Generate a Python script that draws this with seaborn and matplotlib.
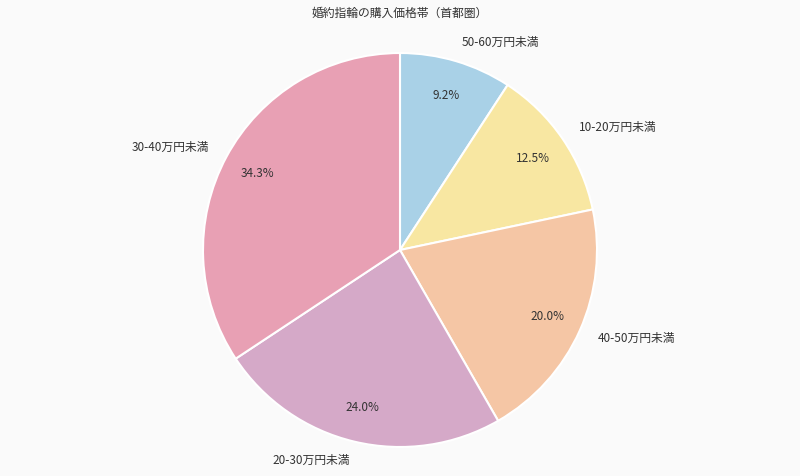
import matplotlib
matplotlib.use("Agg")
import matplotlib.pyplot as plt
import seaborn as sns

# data (clockwise from 12 o'clock)
labels = ["50-60万円未満", "10-20万円未満", "40-50万円未満", "20-30万円未満", "30-40万円未満"]
shares = [9.2, 12.5, 20.0, 24.0, 34.3]
colors = ["#a9d1e7", "#f8e7a2", "#f5c6a5", "#d5a9c8", "#e8a0b4"]
title = "婚約指輪の購入価格帯（首都圏）"

sns.set_theme(style="white", rc={"figure.facecolor": "#fafafa", "axes.facecolor": "#fafafa"})
plt.rcParams["font.family"] = ["Noto Sans CJK JP", "DejaVu Sans"]

fig = plt.figure(figsize=(8, 4.76), dpi=100)
ax = fig.add_axes([0, 0, 1, 1])

ax.pie(
    shares,
    labels=labels,
    colors=colors,
    startangle=90,
    counterclock=False,
    autopct="%.1f%%",
    pctdistance=0.82,
    labeldistance=1.1,
    wedgeprops={"edgecolor": "white", "linewidth": 1.5},
    textprops={"fontsize": 8.5, "color": "#333333"},
)

# radius 1 -> ~197 px, centre at (400, 250) px from top-left
r = 197.0
ax.set_xlim(-400 / r, 400 / r)
ax.set_ylim(-226 / r, 250 / r)
ax.set_aspect("equal")
ax.axis("off")

fig.text(0.5, 1 - 13 / 476, title, ha="center", va="center", fontsize=8.5, color="#333333")

fig.savefig("out.png", dpi=100, facecolor=fig.get_facecolor())
